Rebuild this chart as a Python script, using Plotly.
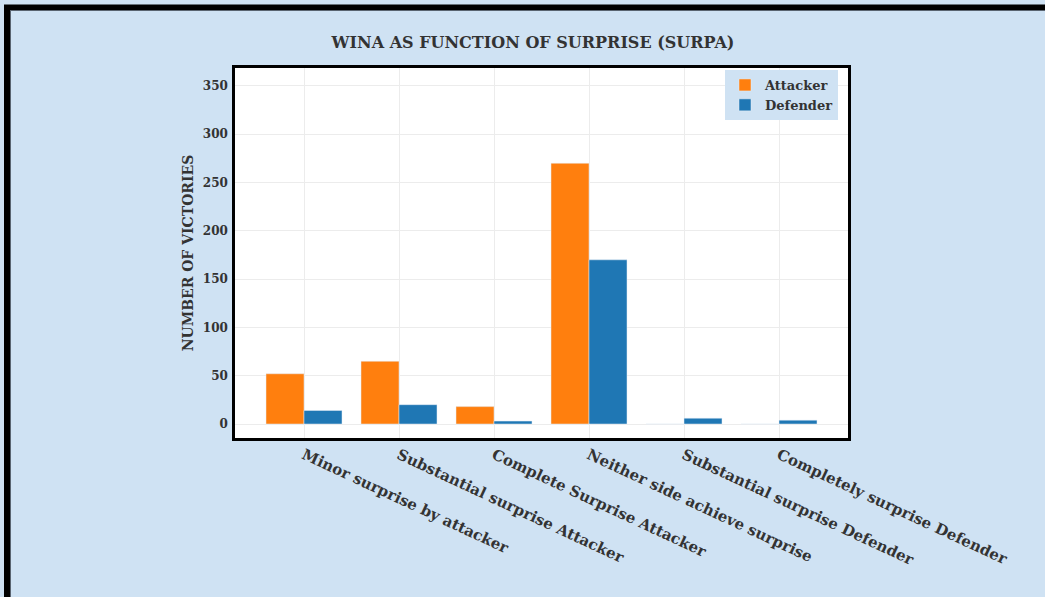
import plotly.graph_objects as go

categories = [
    "Minor surprise by attacker",
    "Substantial surprise Attacker",
    "Complete Surprise Attacker",
    "Neither side achieve surprise",
    "Substantial surprise Defender",
    "Completely surprise Defender",
]
attacker = [52, 65, 18, 270, 0, 0]
defender = [14, 20, 3, 170, 6, 4]
y_ticks = [0, 50, 100, 150, 200, 250, 300, 350]

W, H = 1045, 597
L, R, T, B = 235, W - 848, 68, H - 438
PW, PH = W - L - R, H - T - B

def px_x(p):
    return (p - L) / PW

def px_y(p):
    return 1 - (p - T) / PH

FONT = "DejaVu Serif"

fig = go.Figure()
fig.add_trace(go.Bar(name="Attacker", x=categories, y=attacker, marker_color="#ff7f0e"))
fig.add_trace(go.Bar(name="Defender", x=categories, y=defender, marker_color="#1f77b4"))

fig.update_layout(
    width=W, height=H,
    margin=dict(l=L, r=R, t=T, b=B, autoexpand=False),
    paper_bgcolor="#cfe2f3",
    plot_bgcolor="white",
    barmode="group",
    bargap=0.2,
    bargroupgap=0,
    title=dict(
        text="<b>WINA AS FUNCTION OF SURPRISE (SURPA)</b>",
        x=533 / W, xanchor="center", y=1 - 42 / H, yanchor="middle",
        font=dict(family=FONT, size=16, color="#333333"),
    ),
    font=dict(family=FONT, color="#333333"),
    legend=dict(
        x=px_x(838), xanchor="right", y=px_y(70), yanchor="top",
        bgcolor="#cfe2f3",
        font=dict(family=FONT, size=13, color="#333333", weight="bold"),
        traceorder="normal",
        tracegroupgap=0,
    ),
    showlegend=True,
)

n = len(categories)
span = PW / 95.0
pad = (span - n) / 2
fig.update_xaxes(
    range=[-0.5 - pad, n - 0.5 + pad],
    tickangle=25,
    tickfont=dict(family=FONT, size=15, color="#333333", weight="bold"),
    showgrid=True, gridcolor="#ececec", gridwidth=1,
    showline=True, linecolor="black", linewidth=2.5, mirror=True,
    ticks="", zeroline=False,
)
fig.update_yaxes(
    range=[-14.5, 368.6],
    tickvals=y_ticks,
    tickfont=dict(family=FONT, size=12, color="#333333", weight="bold"),
    title=dict(text="<b>NUMBER OF VICTORIES</b>", font=dict(family=FONT, size=14, color="#333333"), standoff=6),
    showgrid=True, gridcolor="#ececec", gridwidth=1,
    showline=True, linecolor="black", linewidth=2.5, mirror=True,
    ticks="", zeroline=False, ticklabelstandoff=2,
)

# outer black frame (top and left visible)
fig.add_shape(
    type="rect", xref="paper", yref="paper",
    x0=px_x(7), x1=px_x(W + 20), y0=px_y(H + 20), y1=px_y(7.5),
    line=dict(color="black", width=6), fillcolor="rgba(0,0,0,0)", layer="above",
)
fig.add_shape(
    type="rect", xref="paper", yref="paper",
    x0=px_x(10.5), x1=px_x(W + 20), y0=px_y(H + 20), y1=px_y(10.5),
    line=dict(color="#5a6470", width=1), fillcolor="rgba(0,0,0,0)", layer="above",
)

fig.write_html(
    "out.html",
    config={"displayModeBar": False},
    post_script="document.body.style.margin='0';document.body.style.overflow='hidden';",
)
